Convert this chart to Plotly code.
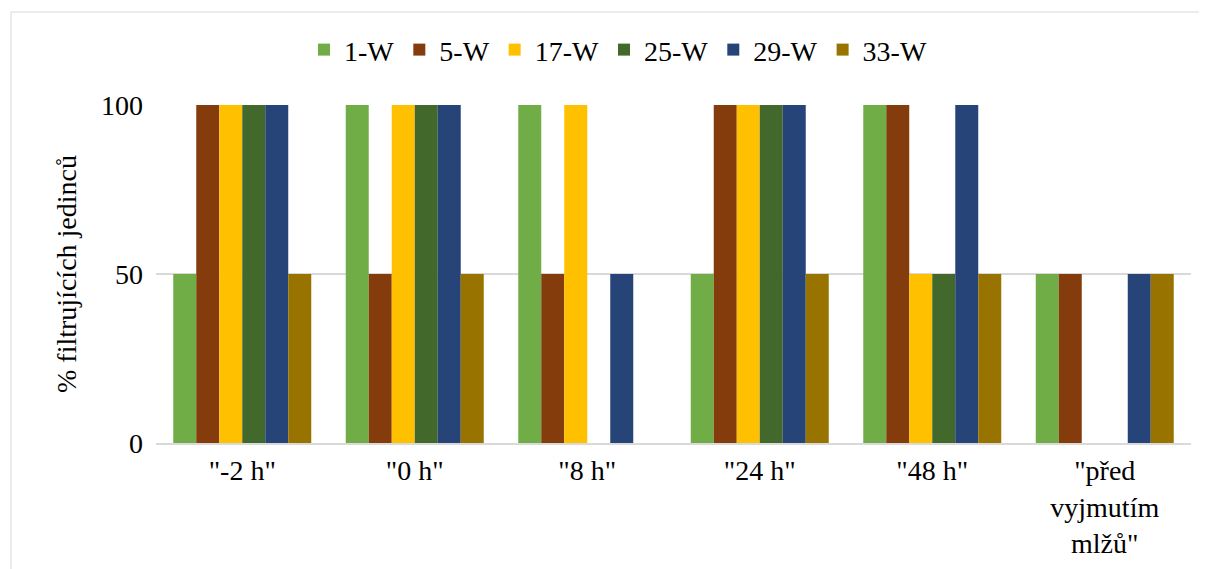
import plotly.graph_objects as go

categories = ['"-2 h"', '"0 h"', '"8 h"', '"24 h"', '"48 h"', '"před<br>vyjmutím<br>mlžů"']
series_names = ["1-W", "5-W", "17-W", "25-W", "29-W", "33-W"]
w1 = [50, 100, 100, 50, 100, 50]
w5 = [100, 50, 50, 100, 100, 50]
w17 = [100, 100, 100, 100, 50, 0]
w25 = [100, 100, 0, 100, 50, 0]
w29 = [100, 100, 50, 100, 100, 50]
w33 = [50, 50, 0, 50, 50, 50]
series_values = [w1, w5, w17, w25, w29, w33]
colors = ["#70AD47", "#843C0C", "#FFC000", "#43682B", "#264478", "#997300"]
y_ticks = [0, 50, 100]

FONT = "Liberation Serif"
FS = 28

L, R, T, B = 148, 24, 97, 134
PW, PH = 1207 - L - R, 569 - T - B

fig = go.Figure()
for name, vals, col in zip(series_names, series_values, colors):
    fig.add_trace(go.Bar(x=categories, y=vals, name=name, marker_color=col,
                         marker_line_width=0))

fig.update_layout(
    width=1207, height=569,
    paper_bgcolor="white", plot_bgcolor="white",
    margin=dict(l=L, r=R, t=T, b=B, autoexpand=False),
    barmode="group", bargap=0.2, bargroupgap=0,
    font=dict(family=FONT, size=FS, color="#000000"),
    legend=dict(orientation="h", x=(610 - L) / PW, xanchor="center", y=1.163, yanchor="middle",
                font=dict(family=FONT, size=FS), bgcolor="rgba(0,0,0,0)",
                traceorder="normal", itemwidth=30),
    xaxis=dict(showgrid=False, showline=True, linecolor="#D9D9D9", linewidth=1.5,
               ticks="", tickfont=dict(family=FONT, size=FS), ticklabelstandoff=2,
               automargin=False),
    yaxis=dict(range=[0, 100], tickvals=y_ticks, showgrid=True, gridcolor="#D9D9D9",
               gridwidth=1.5, zeroline=False, showline=False, ticks="",
               tickfont=dict(family=FONT, size=FS), ticklabelstandoff=12, automargin=False,
               title=dict(text="% filtrujících jedinců", font=dict(family=FONT, size=FS),
                          standoff=16)),
)
fig.add_shape(type="rect", xref="paper", yref="paper",
              x0=(3 - L) / PW, x1=1 + 12 / PW, y0=-0.5, y1=1 + (T - 4) / PH,
              line=dict(color="#D9D9D9", width=1), fillcolor="rgba(0,0,0,0)", layer="below")
fig.write_html("out.html")
